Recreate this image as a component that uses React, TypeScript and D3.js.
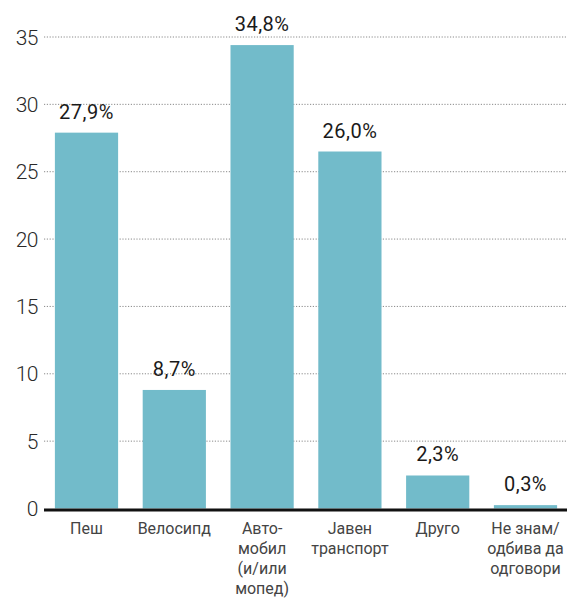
import { useEffect, useRef } from "react";
import * as d3 from "d3";

const categories = [
  ["Пеш"],
  ["Велосипд"],
  ["Авто-", "мобил", "(и/или", "мопед)"],
  ["Јавен", "транспорт"],
  ["Друго"],
  ["Не знам/", "одбива да", "одговори"],
];
// bar heights as drawn in the picture
const values = [27.9, 8.8, 34.4, 26.5, 2.45, 0.25];
const valueLabels = ["27,9%", "8,7%", "34,8%", "26,0%", "2,3%", "0,3%"];
const yTicks = [0, 5, 10, 15, 20, 25, 30, 35];

const width = 575;
const height = 610;
const font = "Roboto, 'DejaVu Sans', sans-serif";

export default function App() {
  const ref = useRef<HTMLDivElement | null>(null);

  useEffect(() => {
    if (!ref.current) return;
    d3.select(ref.current).selectAll("svg").remove();

    const svg = d3
      .select(ref.current)
      .append("svg")
      .attr("width", width)
      .attr("height", height)
      .style("display", "block");

    const y = d3.scaleLinear([0, 35], [508.5, 37]);
    const x = d3
      .scaleBand<number>()
      .domain(d3.range(values.length))
      .range([42.6, 569.4])
      .paddingInner(0.28)
      .paddingOuter(0.14);

    // gridlines
    svg
      .selectAll(".grid")
      .data(yTicks.filter((d) => d > 0))
      .enter()
      .append("line")
      .attr("x1", 44)
      .attr("x2", width)
      .attr("y1", (d) => y(d))
      .attr("y2", (d) => y(d))
      .attr("stroke", "#8a8a8a")
      .attr("stroke-width", 1)
      .attr("stroke-dasharray", "1.2,1.6");

    // y tick labels
    svg
      .selectAll(".ytick")
      .data(yTicks)
      .enter()
      .append("text")
      .attr("x", 38)
      .attr("y", (d) => y(d))
      .attr("dy", "0.36em")
      .attr("text-anchor", "end")
      .attr("font-family", font)
      .attr("font-size", 21)
      .attr("font-weight", 300)
      .attr("letter-spacing", -0.5)
      .attr("fill", "#2a2a2a")
      .text((d) => d);

    // bars
    svg
      .selectAll(".bar")
      .data(values)
      .enter()
      .append("rect")
      .attr("x", (_, i) => x(i)!)
      .attr("y", (d) => y(d))
      .attr("width", x.bandwidth())
      .attr("height", (d) => y(0) - y(d))
      .attr("fill", "#72bbca");

    // value labels
    svg
      .selectAll(".vlabel")
      .data(values)
      .enter()
      .append("text")
      .attr("x", (_, i) => x(i)! + x.bandwidth() / 2)
      .attr("y", (d) => y(d) - 14)
      .attr("text-anchor", "middle")
      .attr("font-family", font)
      .attr("font-size", 20)
      .attr("letter-spacing", 0.5)
      .attr("fill", "#1a1a1a")
      .text((_, i) => valueLabels[i]);

    // baseline
    svg
      .append("line")
      .attr("x1", 44)
      .attr("x2", 567)
      .attr("y1", y(0) + 1.5)
      .attr("y2", y(0) + 1.5)
      .attr("stroke", "#111")
      .attr("stroke-width", 3);

    // category labels
    const cat = svg
      .selectAll(".cat")
      .data(categories)
      .enter()
      .append("text")
      .attr("text-anchor", "middle")
      .attr("font-family", font)
      .attr("font-size", 16)
      .attr("fill", "#444");

    cat
      .selectAll("tspan")
      .data((d, i) => d.map((line) => ({ line, i })))
      .enter()
      .append("tspan")
      .attr("x", (d) => x(d.i)! + x.bandwidth() / 2)
      .attr("y", (_, j) => 534 + j * 20)
      .text((d) => d.line);
  }, []);

  return <div ref={ref} style={{ margin: -8 }} />;
}
